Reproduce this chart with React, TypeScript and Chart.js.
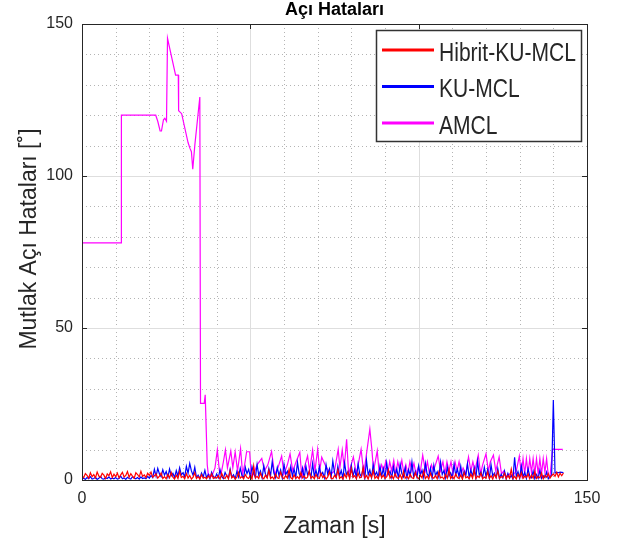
import React, { useEffect, useRef } from "react";
import { Chart, registerables } from "chart.js";

Chart.register(...registerables);

const chartTitle = "Açı Hataları";
const xAxisTitle = "Zaman [s]";
const yAxisTitle = "Mutlak Açı Hataları [˚]";
const seriesNames = ["Hibrit-KU-MCL", "KU-MCL", "AMCL"];
const seriesColors = ["#ff0000", "#0000ff", "#ff00ff"];
const xTicks = [0, 50, 100, 150];
const yTicks = [0, 50, 100, 150];
const minorGrid = [10, 20, 30, 40, 60, 70, 80, 90, 110, 120, 130, 140];
const majorGrid = [50, 100];

// sampling interval (s) of Hibrit-KU-MCL and KU-MCL series
const sampleStep = 0.5;

const hibritValues = [
  1.2, 0.8, 2.1, 1.5, 0.6, 2.4, 1.1, 1.8, 0.7, 2.6, 1.3, 0.9, 2.2, 1.6, 0.5, 2.0, 1.4, 2.7, 0.8, 1.9,
  1.1, 2.3, 0.7, 1.7, 2.5, 1.0, 1.5, 2.8, 0.9, 2.1, 1.3, 0.6, 2.4, 1.8, 1.0, 2.9, 1.2, 1.7, 0.8, 2.2,
  1.5, 2.6, 0.9, 1.4, 2.0, 0.6, 1.3, 2.3, 0.5, 1.1, 0.4, 1.8, 0.7, 2.5, 0.9, 0.3, 1.6, 0.5, 2.8, 0.8,
  1.2, 0.4, 2.1, 0.6, 1.5, 0.3, 0.9, 2.4, 0.5, 1.1, 0.3, 1.7, 0.6, 0.9, 0.4, 1.3, 0.7, 2.0, 0.5, 1.0,
  0.6, 1.4, 0.3, 2.2, 0.8, 0.5, 1.6, 0.4, 3.1, 0.7, 1.2, 0.3, 0.9, 2.5, 0.6, 1.1, 0.4, 1.8, 0.8, 0.5,
  1.5, 0.3, 4.6, 0.7, 1.2, 0.5, 2.3, 0.8, 0.4, 1.6, 0.6, 3.2, 0.5, 1.0, 0.3, 1.9, 0.7, 0.5, 2.6, 0.9,
  0.4, 1.4, 0.6, 3.5, 0.8, 0.3, 1.7, 0.5, 1.1, 0.4, 2.4, 0.7, 1.3, 0.5, 0.9, 3.0, 0.6, 1.2, 0.4, 1.8,
  0.7, 0.5, 2.2, 0.8, 1.4, 0.3, 1.0, 2.7, 0.6, 0.4, 1.5, 0.8, 3.4, 0.5, 1.1, 0.3, 1.9, 0.7, 2.6, 0.5,
  3.8, 0.9, 1.4, 0.4, 2.3, 0.7, 1.0, 4.1, 0.6, 1.5, 0.3, 2.0, 0.8, 3.1, 0.5, 1.2, 0.4, 2.5, 0.7, 1.6,
  0.5, 1.1, 3.3, 0.6, 1.4, 0.4, 2.1, 0.8, 0.5, 1.7, 0.3, 2.8, 0.6, 1.2, 0.4, 1.9, 0.7, 0.5, 2.4, 0.9,
  0.4, 1.6, 0.7, 3.0, 0.5, 1.3, 0.3, 2.2, 0.8, 0.6, 1.5, 0.4, 2.7, 0.7, 1.0, 0.3, 1.8, 0.6, 3.4, 0.5,
  1.2, 0.4, 2.0, 0.8, 0.5, 1.6, 0.3, 2.5, 0.7, 1.1, 0.4, 1.9, 0.6, 3.2, 0.5, 1.3, 0.8, 2.3, 0.4, 1.0,
  0.6, 2.7, 0.5, 1.4, 0.3, 1.8, 0.7, 2.9, 0.5, 1.1, 0.8, 2.2, 0.4, 1.5, 0.6, 3.6, 0.5, 1.2, 0.3, 1.9,
  0.7, 2.4, 0.5, 1.3, 0.8, 2.0, 0.4, 1.6, 0.6, 2.8, 0.5, 1.1, 0.7, 2.3, 0.4, 1.5, 0.9, 2.1, 0.6, 1.4,
  2.0, 1.2, 2.5, 1.0, 2.2, 1.4, 2.3,
];

const kuValues = [
  0.3, 0.6, 0.2, 0.8, 0.4, 1.1, 0.3, 0.5, 0.9, 0.2, 0.6, 1.2, 0.4, 0.3, 0.7, 0.5, 1.0, 0.3, 0.6, 0.4,
  0.8, 0.3, 0.5, 1.3, 0.4, 0.7, 0.2, 0.9, 0.5, 0.3, 1.1, 0.6, 0.4, 0.8, 0.3, 1.0, 0.5, 0.7, 0.4, 1.2,
  0.6, 1.5, 0.8, 3.5, 1.2, 3.8, 2.0, 1.1, 3.4, 1.6, 2.8, 0.9, 3.6, 1.4, 2.2, 0.8, 3.1, 1.3, 4.0, 1.7,
  2.4, 1.0, 4.5, 2.2, 5.5, 3.0, 1.5, 4.2, 0.8, 1.6, 0.5, 2.3, 1.0, 3.2, 0.7, 1.8, 0.4, 2.6, 1.2, 0.6,
  2.0, 0.8, 3.4, 1.1, 0.5, 2.5, 1.3, 0.6, 3.6, 0.9, 1.7, 0.4, 2.8, 1.0, 3.9, 1.5, 0.7, 4.2, 2.1, 3.5,
  1.0, 4.4, 2.2, 0.8, 5.1, 1.6, 3.0, 0.7, 4.7, 1.9, 0.9, 3.8, 1.4, 6.0, 2.3, 0.8, 4.1, 1.5, 3.3, 0.6,
  5.2, 1.8, 2.9, 0.7, 4.4, 1.3, 3.6, 0.9, 5.8, 2.1, 1.0, 3.9, 0.6, 4.6, 1.7, 2.8, 0.8, 5.4, 1.2, 3.2,
  0.9, 4.3, 1.6, 2.5, 0.7, 5.0, 1.9, 3.7, 1.0, 6.2, 2.4, 0.8, 4.5, 1.4, 3.1, 0.6, 5.6, 1.8, 2.7, 0.9,
  4.8, 1.3, 3.5, 0.7, 5.3, 2.0, 1.1, 4.0, 0.6, 6.5, 1.7, 3.3, 0.8, 5.0, 1.5, 2.6, 0.9, 4.6, 1.2, 3.8,
  0.7, 5.7, 1.9, 2.9, 0.8, 4.4, 1.4, 3.6, 0.6, 5.2, 2.1, 1.0, 4.1, 0.7, 3.4, 1.5, 6.0, 1.1, 2.8, 0.9,
  4.7, 1.6, 3.2, 0.8, 5.5, 2.0, 1.2, 3.9, 0.6, 4.8, 1.4, 2.7, 0.9, 5.9, 1.8, 3.1, 0.7, 4.3, 1.3, 2.4,
  0.8, 5.1, 1.7, 3.6, 1.0, 4.5, 0.6, 2.9, 1.5, 5.4, 0.9, 3.3, 1.2, 4.0, 0.7, 6.1, 1.6, 2.6, 0.8, 4.2,
  1.1, 3.5, 0.6, 5.0, 1.4, 2.3, 0.8, 3.8, 0.5, 1.9, 0.7, 3.0, 0.4, 2.2, 0.6, 1.5, 0.3, 7.5, 1.2, 2.8,
  0.6, 4.6, 1.0, 2.5, 0.5, 3.7, 1.3, 0.7, 2.9, 0.4, 1.8, 0.6, 3.2, 0.5, 1.4, 0.8, 2.6, 0.4, 1.1, 1.6,
  26.3, 2.3, 2.5, 2.4, 2.6, 2.5, 2.4,
];

const amclTime = [
  0, 11.6, 11.7, 21.9, 22.5, 23.2, 23.6, 24.2, 24.6, 25.1, 25.4, 27.8, 28.6, 28.7, 29.6, 31.5, 32.1, 32.5, 32.9, 33.5,
  35.0, 35.2, 36.3, 36.6, 37.2, 37.5, 38.0, 38.5, 39.0, 39.5, 40.2, 40.8, 41.3, 42.0, 42.6, 43.2, 44.2, 44.8, 45.5, 46.2,
  47.1, 47.7, 48.3, 48.9, 49.8, 50.3, 51.0, 52.0, 53.4, 54.2, 55.2, 56.3, 57.2, 58.2, 59.3, 60.0, 61.0, 61.8, 62.6, 63.6,
  64.7, 65.3, 66.0, 67.0, 67.6, 68.5, 69.2, 70.0, 70.6, 71.2, 72.2, 73.2, 74.0, 75.0, 76.1, 76.6, 77.3, 77.9, 78.6, 79.2,
  80.6, 81.5, 82.9, 83.7, 85.5, 86.1, 86.6, 87.7, 88.3, 89.0, 89.6, 90.2, 90.8, 91.4, 92.0, 92.6, 93.2, 93.8, 94.4, 95.0,
  95.6, 96.2, 96.8, 97.4, 98.0, 98.6, 99.2, 99.8, 100.4, 101.2, 102.0, 102.6, 103.2, 103.8, 104.4, 105.8, 106.5, 107.2, 107.8, 108.4,
  109.0, 109.6, 110.2, 110.8, 111.4, 112.0, 112.6, 113.2, 114.0, 114.8, 115.5, 116.1, 116.7, 117.7, 118.4, 119.0, 120.0, 120.7, 121.3, 122.2,
  122.9, 123.9, 124.6, 125.3, 126.0, 127.0, 128.0, 129.0, 129.9, 130.5, 131.0, 131.5, 132.0, 132.5, 133.0, 133.5, 134.0, 134.5, 135.0, 135.5,
  136.0, 136.5, 137.0, 137.5, 138.0, 138.5, 139.0, 139.8, 142.8,
];

const amclValues = [
  78, 78, 120, 120, 118, 114.8, 114.8, 118.5, 119, 118, 145.3, 133.2, 133.2, 121.5, 120.5, 111, 109, 108, 102.2, 110,
  126, 25.2, 25.2, 28, 5, 2, 1.5, 1.2, 2.5, 4, 9.9, 3, 2, 6, 9.9, 4, 9.5, 4, 9.2, 3,
  10.3, 2, 5, 9.3, 9.3, 1, 2, 5, 7.1, 3, 5, 9.4, 2, 4, 7.9, 2, 5, 8.6, 3, 6,
  9.1, 1, 4, 7.9, 3, 9.9, 3, 10.1, 3, 7.5, 5, 3, 2, 3, 10.1, 4, 9.9, 4, 13.4, 2,
  7.6, 2, 10.1, 2, 16.7, 10, 3, 9.6, 2, 5, 3, 6, 2, 6, 3, 6.5, 2, 6, 3, 6.5,
  2, 5, 2, 6, 3, 5.5, 2, 4, 2, 8.2, 3, 6, 2, 5, 3, 7.9, 3, 6, 2, 6,
  3, 6, 2, 6, 3, 6, 2, 4, 2, 7.6, 3, 6, 3, 8.2, 2, 5, 8.6, 3, 6, 8.2,
  3, 7.6, 2, 3, 1, 2, 1.5, 3, 7.9, 2, 7, 2, 7, 2, 7, 2.5, 7, 2, 7, 2,
  7, 2, 7, 2.5, 7, 1.5, 1, 10.1, 10.1,
];

const fontFamily = "'Liberation Sans', Arial, Helvetica, sans-serif";
const textColor = "#262626";

const decorPlugin = {
  id: "matlabDecor",
  beforeDatasetsDraw(chart: any) {
    const { ctx, chartArea: a, scales } = chart;
    const x = scales.x;
    const y = scales.y;
    ctx.save();
    ctx.lineWidth = 1;
    ctx.strokeStyle = "#b4b4b4";
    ctx.setLineDash([1, 3]);
    for (const v of minorGrid) {
      const px = Math.round(x.getPixelForValue(v)) + 0.5;
      ctx.beginPath();
      ctx.moveTo(px, a.top);
      ctx.lineTo(px, a.bottom);
      ctx.stroke();
      const py = Math.round(y.getPixelForValue(v)) + 0.5;
      ctx.beginPath();
      ctx.moveTo(a.left, py);
      ctx.lineTo(a.right, py);
      ctx.stroke();
    }
    ctx.setLineDash([]);
    ctx.strokeStyle = "#dedede";
    for (const v of majorGrid) {
      const px = Math.round(x.getPixelForValue(v)) + 0.5;
      ctx.beginPath();
      ctx.moveTo(px, a.top);
      ctx.lineTo(px, a.bottom);
      ctx.stroke();
      const py = Math.round(y.getPixelForValue(v)) + 0.5;
      ctx.beginPath();
      ctx.moveTo(a.left, py);
      ctx.lineTo(a.right, py);
      ctx.stroke();
    }
    ctx.restore();
  },
  afterDatasetsDraw(chart: any) {
    const { ctx, chartArea: a, scales } = chart;
    const x = scales.x;
    const y = scales.y;
    ctx.save();
    // axes box
    ctx.strokeStyle = textColor;
    ctx.lineWidth = 1;
    ctx.strokeRect(Math.round(a.left) + 0.5, Math.round(a.top) + 0.5, Math.round(a.right - a.left), Math.round(a.bottom - a.top));
    const tl = 5;
    for (const v of xTicks) {
      const px = Math.round(x.getPixelForValue(v)) + 0.5;
      ctx.beginPath();
      ctx.moveTo(px, a.bottom);
      ctx.lineTo(px, a.bottom - tl);
      ctx.moveTo(px, a.top);
      ctx.lineTo(px, a.top + tl);
      ctx.stroke();
    }
    for (const v of yTicks) {
      const py = Math.round(y.getPixelForValue(v)) + 0.5;
      ctx.beginPath();
      ctx.moveTo(a.left, py);
      ctx.lineTo(a.left + tl, py);
      ctx.moveTo(a.right, py);
      ctx.lineTo(a.right - tl, py);
      ctx.stroke();
    }
    // legend
    const lx = 376, ly = 30, lw = 205, lh = 111;
    ctx.fillStyle = "#ffffff";
    ctx.fillRect(lx, ly, lw, lh);
    ctx.lineWidth = 1.5;
    ctx.strokeStyle = "#333333";
    ctx.strokeRect(lx + 0.5, ly + 0.5, lw, lh);
    const rowCenters = [51.3, 87.7, 124.1];
    seriesNames.forEach((name, i) => {
      const cy = rowCenters[i];
      ctx.strokeStyle = seriesColors[i];
      ctx.lineWidth = 3;
      ctx.beginPath();
      ctx.moveTo(382, cy - 1.2);
      ctx.lineTo(434, cy - 1.2);
      ctx.stroke();
      ctx.save();
      ctx.translate(439, cy + 9.4);
      ctx.scale(0.81, 1);
      ctx.fillStyle = textColor;
      ctx.font = `26px ${fontFamily}`;
      ctx.textAlign = "left";
      ctx.textBaseline = "alphabetic";
      ctx.fillText(name, 0, 0);
      ctx.restore();
    });
    ctx.restore();
  },
  afterDraw(chart: any) {
    const { ctx, chartArea: a } = chart;
    const cx = (a.left + a.right) / 2;
    ctx.save();
    ctx.fillStyle = "#000000";
    ctx.font = `bold 18px ${fontFamily}`;
    ctx.textAlign = "center";
    ctx.textBaseline = "alphabetic";
    ctx.fillText(chartTitle, cx, 15);
    ctx.fillStyle = textColor;
    ctx.font = `23px ${fontFamily}`;
    ctx.fillText(xAxisTitle, cx, 533);
    ctx.translate(36, 239);
    ctx.rotate(-Math.PI / 2);
    ctx.fillText(yAxisTitle, 0, 0);
    ctx.restore();
  },
};

export default function App() {
  const canvasRef = useRef<HTMLCanvasElement | null>(null);

  useEffect(() => {
    const canvas = canvasRef.current;
    if (!canvas) return;
    const hibritData = hibritValues.map((v, i) => ({ x: i * sampleStep, y: v }));
    const kuData = kuValues.map((v, i) => ({ x: i * sampleStep, y: v }));
    const amclData = amclTime.map((t, i) => ({ x: t, y: amclValues[i] }));
    const datasets = [hibritData, kuData, amclData].map((d, i) => ({
      label: seriesNames[i],
      data: d,
      borderColor: seriesColors[i],
      backgroundColor: seriesColors[i],
      borderWidth: 1.2,
      pointRadius: 0,
      pointHoverRadius: 0,
      tension: 0,
      fill: false,
    }));
    const chart = new Chart(canvas, {
      type: "line",
      data: { datasets },
      options: {
        animation: false,
        responsive: false,
        maintainAspectRatio: false,
        events: [],
        layout: { padding: { top: 24, right: 30, left: 0, bottom: 0 } },
        plugins: {
          legend: { display: false },
          title: { display: false },
          tooltip: { enabled: false },
        },
        scales: {
          x: {
            type: "linear",
            min: 0,
            max: 150,
            afterBuildTicks: (scale: any) => {
              scale.ticks = xTicks.map((v) => ({ value: v }));
            },
            afterFit: (scale: any) => {
              scale.height = 64;
            },
            ticks: {
              color: textColor,
              font: { family: fontFamily, size: 16 },
              padding: 9,
              maxRotation: 0,
              autoSkip: false,
            },
            grid: { display: false, drawTicks: false },
            border: { display: false },
          },
          y: {
            type: "linear",
            min: 0,
            max: 150,
            afterBuildTicks: (scale: any) => {
              scale.ticks = yTicks.map((v) => ({ value: v }));
            },
            afterFit: (scale: any) => {
              scale.width = 82;
            },
            ticks: {
              color: textColor,
              font: { family: fontFamily, size: 16 },
              padding: 9,
              autoSkip: false,
            },
            grid: { display: false, drawTicks: false },
            border: { display: false },
          },
        },
      },
      plugins: [decorPlugin],
    });
    return () => chart.destroy();
  }, []);

  return (
    <div style={{ position: "absolute", left: 0, top: 0, width: 617, height: 544, background: "#ffffff" }}>
      <canvas ref={canvasRef} width={617} height={544} style={{ width: 617, height: 544, display: "block" }} />
    </div>
  );
}
